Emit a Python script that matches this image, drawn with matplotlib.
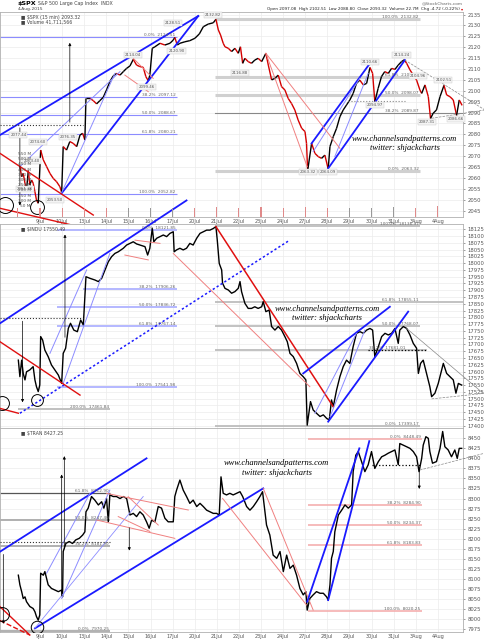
import matplotlib.pyplot as plt
from matplotlib.collections import LineCollection

# x axis = trading day, 0 = 8 Jul 2015 open ... 19 = 4 Aug
date_days = list(range(1, 20))
date_labels = ['9Jul', '10Jul', '13Jul', '14Jul', '15Jul', '16Jul', '17Jul', '20Jul', '21Jul',
               '22Jul', '23Jul', '24Jul', '27Jul', '28Jul', '29Jul', '30Jul', '31Jul', '3Aug', '4Aug']

# ---- $SPX 15 min ----
spx_day = [0.09, 0.17, 0.24, 0.32, 0.39, 0.47, 0.54, 0.62, 0.69, 0.77, 0.84, 0.92,
           1.03, 1.15, 1.30, 1.45, 1.60, 1.75, 1.90, 1.98,
           2.05, 2.20, 2.35, 2.50, 2.66, 2.81, 2.93, 3.03,
           3.08, 3.26, 3.41, 3.56, 3.71, 3.86, 4.01, 4.16, 4.31, 4.46, 4.62, 4.77, 4.92,
           5.07, 5.22, 5.37, 5.52, 5.67, 5.79, 5.90, 5.97,
           6.08, 6.20, 6.43, 6.65, 6.88, 7.03, 7.10, 7.21, 7.33, 7.56, 7.78,
           8.01, 8.21, 8.39, 8.61, 8.84, 8.96, 9.07, 9.17, 9.29, 9.37, 9.52, 9.67, 9.82, 9.97,
           10.07, 10.17, 10.27, 10.42, 10.57, 10.72, 10.87, 11.03, 11.22, 11.33, 11.48, 11.63,
           11.78, 11.93, 12.08, 12.23, 12.38, 12.53, 12.68, 12.84, 12.99, 13.06, 13.11,
           13.29, 13.44, 13.59, 13.74, 13.89, 14.04, 14.12, 14.27, 14.42, 14.57, 14.72,
           14.87, 15.02, 15.17, 15.32, 15.47, 15.63, 15.78, 15.93, 16.05, 16.15, 16.30,
           16.45, 16.60, 16.76, 16.91, 17.06, 17.21, 17.36, 17.48, 17.59, 17.74, 17.89,
           18.04, 18.19, 18.27, 18.42, 18.57, 18.67, 18.79, 18.94, 19.10, 19.28, 19.40,
           19.55, 19.70, 19.85, 19.97, 20.10]
spx_close = [2065.2, 2060.6, 2062.1, 2057.6, 2054.5, 2063.4, 2056.8, 2059.1, 2057.6, 2053.7, 2049.9, 2048.4,
             2072.8, 2068.3, 2065.2, 2062.1, 2059.8, 2058.3, 2056.0, 2053.3,
             2074.4, 2072.8, 2076.7, 2075.9, 2074.4, 2079.7, 2080.5, 2077.4,
             2096.5, 2096.5, 2095.5, 2094.0, 2095.5, 2097.0, 2100.4, 2104.2, 2106.8, 2108.0, 2107.2, 2108.8, 2110.3,
             2111.4, 2114.4, 2111.8, 2111.1, 2110.8, 2106.5, 2104.6, 2107.2,
             2119.5, 2120.2, 2121.8, 2121.0, 2121.8, 2123.3, 2124.5, 2121.0, 2121.8, 2122.5, 2123.0,
             2124.1, 2126.1, 2129.4, 2130.6, 2131.2, 2132.8, 2127.9, 2125.6, 2121.8, 2120.2, 2119.5, 2118.0, 2119.5, 2117.2,
             2120.2, 2112.6, 2114.9, 2113.4, 2112.6, 2114.1, 2114.9, 2113.4, 2117.2, 2111.8, 2105.0, 2105.7,
             2107.2, 2101.9, 2100.4, 2096.5, 2094.2, 2091.2, 2086.6, 2082.8, 2081.3, 2075.9, 2063.3,
             2075.9, 2071.3, 2069.8, 2069.0, 2070.5, 2064.1, 2074.4, 2079.0, 2082.8, 2088.1, 2091.2,
             2093.5, 2095.8, 2098.8, 2103.4, 2104.9, 2102.7, 2103.4, 2110.7, 2108.0, 2095.0, 2101.1,
             2106.5, 2108.8, 2108.0, 2110.3, 2109.8, 2111.8, 2113.4, 2114.2, 2112.6, 2109.6, 2107.2,
             2104.9, 2100.4, 2098.8, 2102.7, 2097.3, 2087.3, 2089.7, 2091.2, 2097.3, 2102.5, 2098.1,
             2097.3, 2095.8, 2088.7, 2095.8, 2093.3]
spx_vol_open = [35, 30, 32, 28, 30, 33, 27, 30, 35, 40, 32, 38, 34, 36, 35, 30, 34, 42, 33, 45]
spx_vol_ticks = [50, 100, 150, 200, 250, 300, 350, 400, 450, 500, 550]

spx_pt_x = [8.84, 7.03, 5.22, 5.82, 0.02, 0.92, 2.28, 0.62, 0.32, 1.67,
            10.05, 13.14, 14.04, 15.93, 16.15, 17.36, 18.11, 19.25, 18.52, 19.82, 7.18]
spx_pt_y = [2134.8, 2131.3, 2116.4, 2101.6, 2079.7, 2076.6, 2079.0, 2067.8, 2054.8, 2050.0,
            2108.3, 2062.6, 2062.9, 2113.1, 2093.5, 2116.4, 2106.9, 2104.9, 2085.8, 2087.1, 2118.4]
spx_pt_txt = ['2132.82', '2128.51', '2114.04', '2099.46', '2077.44', '2074.60', '2076.35', '2063.40',
              '2051.36', '2053.50', '2116.88', '2063.32', '2064.09', '2110.66', '2094.97', '2114.24',
              '2104.96', '2102.51', '2087.31', '2086.66', '2120.90']

spx_fib_l = [2124.51, 2097.12, 2088.67, 2080.21, 2052.82]
spx_fib_l_txt = ['0.0%', '38.2%', '50.0%', '61.8%', '100.0%']
spx_fib_r = [2132.82, 2106.27, 2098.07, 2089.87, 2063.32]
spx_fib_r_txt = ['100.0%', '61.8%', '50.0%', '38.2%', '0.0%']

# ---- $INDU 15 min ----
indu_day = [0.02, 0.09, 0.17, 0.24, 0.32, 0.39, 0.54, 0.69, 0.77, 0.84, 0.92, 0.99,
            1.03, 1.12, 1.22, 1.37, 1.52, 1.67, 1.83, 1.98,
            2.05, 2.16, 2.28, 2.38, 2.53, 2.69, 2.84, 2.96,
            3.08, 3.26, 3.48, 3.64, 3.79, 3.94, 4.09, 4.24, 4.39, 4.54, 4.77, 4.92,
            5.07, 5.22, 5.37, 5.52, 5.75, 5.87, 5.97,
            6.08, 6.15, 6.28, 6.43, 6.58, 6.73, 6.88, 7.03, 7.07, 7.18, 7.33, 7.48, 7.63, 7.78, 7.93,
            8.09, 8.24, 8.39, 8.54, 8.69, 8.84, 8.96, 9.02, 9.11, 9.22, 9.26, 9.37, 9.52, 9.67, 9.82, 9.97,
            10.05, 10.12, 10.27, 10.42, 10.57, 10.72, 10.87, 11.03, 11.10, 11.22, 11.37, 11.48, 11.63,
            11.78, 11.93, 12.08, 12.19, 12.31, 12.46, 12.61, 12.76, 12.91, 13.03, 13.09,
            13.24, 13.36, 13.51, 13.67, 13.82, 13.97, 14.09, 14.19, 14.27, 14.42, 14.57, 14.72, 14.87,
            15.02, 15.17, 15.32, 15.48, 15.63, 15.78, 15.93, 16.05, 16.15, 16.31, 16.46, 16.61,
            16.76, 16.91, 17.06, 17.21, 17.28, 17.44, 17.59, 17.74, 17.89, 18.04, 18.12, 18.22,
            18.34, 18.49, 18.64, 18.72, 18.87, 19.02, 19.25, 19.40, 19.55, 19.70, 19.82, 19.93, 20.08]
indu_close = [17642, 17581, 17642, 17593, 17569, 17599, 17606, 17618, 17569, 17544, 17526, 17550,
              17729, 17716, 17679, 17655, 17624, 17606, 17587, 17556,
              17667, 17686, 17759, 17778, 17753, 17747, 17790, 17772,
              17950, 17944, 17938, 17932, 17944, 17975, 18005, 18024, 18036, 18042, 18055, 18067,
              18073, 18079, 18071, 18067, 18061, 18030, 18055,
              18129, 18079, 18092, 18098, 18104, 18098, 18110, 18116, 18042, 18049, 18055, 18049, 18055, 18073, 18067,
              18092, 18110, 18116, 18122, 18122, 18128, 18135, 18086, 17999, 17975, 17926, 17907, 17901, 17889, 17895, 17907,
              17932, 17895, 17852, 17833, 17833, 17839, 17833, 17839, 17858, 17821, 17827, 17766, 17753,
              17766, 17753, 17729, 17710, 17667, 17655, 17630, 17593, 17581, 17569, 17402,
              17489, 17458, 17446, 17434, 17440, 17427, 17421, 17495, 17470, 17532, 17581, 17618, 17642,
              17630, 17692, 17741, 17747, 17741, 17753, 17759, 17753, 17655, 17692, 17729, 17741,
              17735, 17741, 17759, 17704, 17753, 17766, 17759, 17735, 17704, 17686, 17593, 17630,
              17642, 17593, 17544, 17507, 17520, 17556, 17630, 17593, 17581, 17569, 17520, 17556, 17550]
indu_fib_l = [18121.85, 17906.26, 17836.72, 17767.14, 17541.98]
indu_fib_l_txt = ['0.0%', '38.2%', '50.0%', '61.8%', '100.0%']
indu_fib_r = [18136.97, 17855.11, 17768.07, 17681.01, 17399.17]
indu_fib_r_txt = ['100.0%', '61.8%', '50.0%', '38.2%', '0.0%']

# ---- $TRAN 15 min ----
tran_day = [0.02, 0.09, 0.17, 0.24, 0.32, 0.39, 0.54, 0.69, 0.77, 0.84, 0.92, 0.99,
            1.03, 1.15, 1.22, 1.37, 1.52, 1.67, 1.83, 1.98, 2.02,
            2.05, 2.17, 2.32, 2.47, 2.62, 2.78, 2.93, 3.03,
            3.08, 3.18, 3.33, 3.48, 3.64, 3.79, 3.89, 4.01, 4.09, 4.16, 4.31, 4.46, 4.62, 4.77, 4.92,
            5.07, 5.22, 5.37, 5.52, 5.67, 5.82, 5.94, 6.05, 6.20, 6.35, 6.50, 6.65, 6.80, 6.95, 7.03,
            7.10, 7.18, 7.33, 7.48, 7.63, 7.78, 7.93, 8.09, 8.24, 8.39, 8.54, 8.69, 8.84, 8.99, 9.11,
            9.19, 9.29, 9.44, 9.59, 9.74, 9.90, 10.05, 10.17, 10.35, 10.50, 10.65, 10.80, 10.95, 11.07,
            11.18, 11.25, 11.40, 11.55, 11.71, 11.86, 12.01, 12.16, 12.31, 12.46, 12.61, 12.76, 12.91,
            13.03, 13.09, 13.21, 13.36, 13.51, 13.67, 13.82, 13.97, 14.04, 14.12, 14.19, 14.27, 14.34,
            14.50, 14.65, 14.80, 14.95, 15.10, 15.17, 15.29, 15.40, 15.55, 15.70, 15.85, 16.00, 16.15,
            16.31, 16.46, 16.61, 16.76, 16.91, 17.06, 17.21, 17.28, 17.44, 17.59, 17.74, 17.89, 18.04,
            18.15, 18.27, 18.34, 18.46, 18.57, 18.64, 18.76, 18.94, 19.10, 19.22, 19.32, 19.47, 19.62,
            19.77, 19.88, 19.97, 20.08]
tran_close = [8109, 8085, 8068, 8051, 8055, 8043, 8031, 8026, 8018, 8006, 7997, 8010,
              8114, 8109, 8118, 8085, 8076, 8072, 8068, 8072, 8055,
              8168, 8188, 8193, 8188, 8197, 8201, 8209, 8217,
              8267, 8276, 8305, 8296, 8284, 8292, 8276, 8300, 8242, 8309, 8305, 8305, 8300, 8305, 8300,
              8259, 8263, 8255, 8267, 8259, 8242, 8226, 8246, 8242, 8280, 8276, 8251, 8242, 8242, 8242,
              8305, 8321, 8346, 8321, 8305, 8288, 8296, 8280, 8288, 8280, 8271, 8267, 8263, 8263, 8259,
              8354, 8313, 8309, 8313, 8309, 8313, 8317, 8305, 8280, 8271, 8280, 8292, 8305, 8317,
              8267, 8234, 8209, 8159, 8151, 8168, 8118, 8159, 8126, 8134, 8109, 8076, 8060,
              8068, 8022, 8051, 8060, 8068, 8064, 8064, 8055, 8047, 8085, 8151, 8168, 8217,
              8259, 8271, 8284, 8276, 8284, 8367, 8408, 8417, 8392, 8367, 8384, 8417, 8375,
              8392, 8404, 8408, 8413, 8417, 8421, 8384, 8437, 8433, 8429, 8425, 8417, 8404,
              8367, 8400, 8433, 8454, 8450, 8417, 8388, 8392, 8425, 8467, 8429, 8421, 8404,
              8421, 8400, 8425, 8425]
tran_fib_l = [8312.90, 8247.40, 8181.90, 7970.25]
tran_fib_l_txt = ['61.8%', '50.0%', '38.2%', '0.0%']
tran_fib_r = [8448.49, 8284.90, 8234.37, 8183.83, 8020.25]
tran_fib_r_txt = ['0.0%', '38.2%', '50.0%', '61.8%', '100.0%']

BLUE = '#1a1aff'
LBLUE = '#8c8cff'
RED = '#e01010'
LRED = '#f08080'
XMIN, XMAX = -0.81, 20.14

fig = plt.figure(figsize=(4.84, 6.4), dpi=100)
W, H = 484.0, 640.0
ax1 = fig.add_axes([0, 1 - 217 / H, 463 / W, 205 / H])
ax2 = fig.add_axes([0, 1 - 428 / H, 463 / W, 204 / H])
ax3 = fig.add_axes([0, 1 - 632 / H, 463 / W, 204 / H])

# volume twin made first: twinx() moves the price ticks to the left otherwise
axv = ax1.twinx()


def frame(ax, lo, hi, ticks):
    ax.set_xlim(XMIN, XMAX)
    ax.set_ylim(lo, hi)
    ax.yaxis.tick_right()
    ax.set_yticks(ticks)
    ax.set_yticklabels([str(t) for t in ticks])
    ax.tick_params(axis='y', labelsize=3.8, length=1.5, width=0.4, pad=1.5, colors='#555555',
                   left=False, labelleft=False, right=True, labelright=True)
    ax.set_xticks(date_days)
    ax.tick_params(axis='x', length=0, labelsize=3.6, pad=1.5, colors='#555555')
    ax.grid(True, color='#ececec', lw=0.5)
    ax.set_axisbelow(True)
    for s in ax.spines.values():
        s.set_color('#b0b0b0')
        s.set_linewidth(0.6)


def line(ax, x1, y1, x2, y2, color=BLUE, lw=1.2, ls='-', clip=True):
    ax.plot([x1, x2], [y1, y2], color=color, lw=lw, ls=ls, clip_on=clip, zorder=4)


def fib(ax, x1, x2, y, pct, color, lw, tx=None):
    ax.plot([x1, x2], [y, y], color=color, lw=lw, zorder=2, solid_capstyle='butt')
    if tx is None:
        tx = x2
    ax.text(tx - 0.05, y, '%s  %.2f' % (pct, y), fontsize=3.1, color='#666666',
            ha='right', va='bottom', zorder=6)


def arrow(ax, x, y1, y2):
    ax.annotate('', xy=(x, y2), xytext=(x, y1),
                arrowprops=dict(arrowstyle='-|>', color='black', lw=0.5, mutation_scale=4), zorder=5)


def circle(ax, x, y, ms):
    ax.plot([x], [y], 'o', mfc='none', mec='black', ms=ms, mew=0.7, zorder=5)


def watermark(ax, x, y1, y2):
    ax.text(x, y1, 'www.channelsandpatterns.com', fontsize=6.1, style='italic',
            family='Liberation Serif', ha='center', va='center', zorder=7)
    ax.text(x, y2, 'twitter: shjackcharts', fontsize=6.1, style='italic',
            family='Liberation Serif', ha='center', va='center', zorder=7)


# ================= panel 1: SPX =================
frame(ax1, 2042.1, 2136.15, list(range(2045, 2136, 5)))
ax1.set_xticklabels(date_labels)

pts = list(zip(spx_day, spx_close))
segs = [[pts[i], pts[i + 1]] for i in range(len(pts) - 1)]
cols = ['#d40000' if spx_close[i + 1] < spx_close[i] else 'black' for i in range(len(pts) - 1)]
ax1.add_collection(LineCollection(segs, colors=cols, linewidths=1.0, zorder=3))

axv.set_ylim(-56, 1915)
axv.set_yticks([])
axv.bar(list(range(20)), [v + 56 for v in spx_vol_open], bottom=-56, width=0.05, color='#e08a8a', zorder=1)
axv.bar(list(range(20)), [v + 56 for v in spx_vol_open], bottom=-56, width=0.015, color='#999999', zorder=1)
for v in spx_vol_ticks:
    axv.text(0.58, v, '%d M' % v, fontsize=3.1, color='#555555', ha='right', va='center')
for s in axv.spines.values():
    s.set_visible(False)

for y, p in zip(spx_fib_l, spx_fib_l_txt):
    fib(ax1, XMIN, 7.18, y, p, LBLUE, 0.8)
for y, p in zip(spx_fib_r, spx_fib_r_txt):
    if p == '38.2%':
        ax1.plot([8.91, XMAX], [y, y], color='#888888', lw=0.8, zorder=2)
        ax1.text(18.15, y, '%s  %.2f' % (p, y), fontsize=3.1, color='#666666', ha='right', va='bottom')
    else:
        fib(ax1, 8.91, 18.19, y, p, '#d0d0d0', 2.2)

line(ax1, XMIN, 2079.7, 8.16, 2134.3, lw=1.3)
line(ax1, 1.98, 2053.0, 8.16, 2134.3, lw=1.3)
line(ax1, 0.09, 2065.2, 4.62, 2108.8, color=LBLUE, lw=0.7)
line(ax1, 1.98, 2053.3, 4.39, 2108.0, color=LBLUE, lw=0.7)
line(ax1, 13.29, 2075.9, 15.93, 2112.6, lw=1.3)
line(ax1, 14.04, 2064.4, 17.51, 2114.1, lw=1.3)
line(ax1, 13.36, 2072.1, 15.47, 2105.7, color=LBLUE, lw=0.7)
line(ax1, 14.34, 2069.8, 15.85, 2108.0, color=LBLUE, lw=0.7)
line(ax1, XMIN, 2071.3, 3.41, 2043.0, color=RED, lw=1.0)
line(ax1, XMIN, 2046.1, 2.45, 2038.4, color=RED, lw=1.0, clip=False)
line(ax1, 4.84, 2107.2, 5.90, 2099.6, color=LRED, lw=0.7)
line(ax1, 5.22, 2114.9, 6.12, 2105.7, color=LRED, lw=0.7)
line(ax1, 11.22, 2117.2, 13.09, 2065.2, color=LRED, lw=0.7)
line(ax1, 11.22, 2117.2, 14.57, 2073.6, color=LRED, lw=0.7)
line(ax1, XMIN, 2084.3, 2.96, 2084.3, color='#333333', lw=0.8, ls=':')
line(ax1, 14.95, 2095.3, 17.51, 2095.3, color='#888888', lw=0.8, ls=':')
line(ax1, 17.51, 2114.1, 21.13, 2091.2, color='#888888', lw=0.5, ls='--', clip=False)
line(ax1, 18.72, 2087.4, 21.13, 2091.2, color='#888888', lw=0.5, ls='--', clip=False)
arrow(ax1, 2.35, 2084.3, 2123.3)
arrow(ax1, 0.09, 2084.3, 2046.1)
circle(ax1, 0.85, 2046.6, 10)
circle(ax1, -0.58, 2047.8, 11.5)

for x, y, t in zip(spx_pt_x, spx_pt_y, spx_pt_txt):
    ax1.text(x, y, t, fontsize=2.9, color='#555555', ha='center', va='center', zorder=6,
             bbox=dict(boxstyle='square,pad=0.25', fc='#f4f4f4', ec='#c8c8c8', lw=0.3))

watermark(ax1, 17.5, 2077.9, 2073.8)
ax1.text(0.045, 0.985, '\u25a0 $SPX (15 min) 2093.32', transform=ax1.transAxes, fontsize=3.3,
         color='#444444', va='top')
ax1.text(0.045, 0.965, '\u25a0 Volume 41,711,566', transform=ax1.transAxes, fontsize=3.3,
         color='#444444', va='top')

fig.text(18 / W, 1 - 4 / H, '$SPX', fontsize=4.6, fontweight='bold', va='center')
fig.text(38 / W, 1 - 4 / H, 'S&P 500 Large Cap Index  INDX', fontsize=3.4, color='#444444', va='center')
fig.text(18 / W, 1 - 9 / H, '4-Aug-2015', fontsize=3.2, color='#444444', va='center')
fig.text(463 / W, 1 - 3 / H, '@StockCharts.com', fontsize=3.2, color='#666666', va='center', ha='right')
fig.text(460 / W, 1 - 9 / H,
         'Open 2097.08  High 2102.51  Low 2088.80  Close 2093.32  Volume 22.7M  Chg -4.72 (-0.22%)',
         fontsize=3.0, color='#222222', va='center', ha='right')
fig.text(463 / W, 1 - 9 / H, '\u25be', fontsize=3.0, color='#d40000', va='center', ha='right')

# ================= panel 2: INDU =================
frame(ax2, 17391.5, 18144.6, list(range(17400, 18126, 25)))
ax2.set_xticklabels([])
ax2.plot(indu_day, indu_close, color='black', lw=1.0, zorder=3)

for y, p in zip(indu_fib_l, indu_fib_l_txt):
    x1 = 2.96 if p == '38.2%' else 1.75
    fib(ax2, x1, 7.18, y, p, '#b4b8ff', 1.4)
fib(ax2, 0.02, 4.16, 17461.84, '200.0%', '#c0c0c0', 1.4)
for y, p in zip(indu_fib_r, indu_fib_r_txt):
    x2 = 20.22 if p == '61.8%' else (18.49 if p == '38.2%' else 18.19)
    fib(ax2, 8.91, x2, y, p, '#b8b8b8', 1.2, tx=18.19 if p != '38.2%' else 17.6)

line(ax2, XMIN, 17778, 7.63, 18231.6, lw=1.3, clip=False)
line(ax2, 0.09, 17446, 12.31, 18085.5, lw=1.1, ls=(0, (1.5, 1.5)))
line(ax2, 1.45, 17667, 3.11, 17975, color=LBLUE, lw=0.7)
line(ax2, 2.05, 17556, 4.16, 18036, color=LBLUE, lw=0.7)
line(ax2, XMIN, 17710, 2.81, 17513, color=RED, lw=1.0)
line(ax2, XMIN, 17464, 0.02, 17446, color=RED, lw=1.0)
line(ax2, 4.84, 18030, 5.90, 18012, color=LRED, lw=0.7)
line(ax2, 5.30, 18085, 6.43, 18073, color=LRED, lw=0.7)
line(ax2, 7.03, 18036, 13.21, 17544, color=LRED, lw=0.7)
line(ax2, 8.96, 18135, 14.27, 17470, color=RED, lw=1.1)
line(ax2, 12.91, 17593, 16.83, 17839, lw=1.3)
line(ax2, 14.04, 17415, 17.66, 17821, lw=1.3)
line(ax2, 13.44, 17446, 15.32, 17741, color=LBLUE, lw=0.7)
line(ax2, 14.12, 17433, 15.70, 17753, color=LBLUE, lw=0.7)
line(ax2, 17.59, 17759, 21.06, 17519, color='#888888', lw=0.5, clip=False)
line(ax2, 18.72, 17499, 21.06, 17519, color='#888888', lw=0.5, ls='--', clip=False)
line(ax2, 15.85, 17679, 18.49, 17679, color='black', lw=0.9, ls=':')
line(ax2, XMIN, 17796, 2.96, 17796, color='#333333', lw=0.8, ls=':')
arrow(ax2, 0.21, 17796, 17476)
arrow(ax2, 2.13, 17716, 18116)
circle(ax2, 0.85, 17495, 8.5)
circle(ax2, -0.74, 17482, 10)
watermark(ax2, 14.0, 17832, 17796)
ax2.text(0.045, 0.985, '\u25a0 $INDU 17550.49', transform=ax2.transAxes, fontsize=3.3,
         color='#444444', va='top')

# ================= panel 3: TRAN =================
frame(ax3, 7967.5, 8475.7, list(range(7975, 8451, 25)))
ax3.set_xticklabels(date_labels)
ax3.plot(tran_day, tran_close, color='black', lw=1.0, zorder=3)

for y, p in zip(tran_fib_l, tran_fib_l_txt):
    c = '#555555' if p == '61.8%' else '#b0b0b0'
    fib(ax3, XMIN, 4.16, y, p, c, 0.9 if p == '61.8%' else 1.4)
for y, p in zip(tran_fib_r, tran_fib_r_txt):
    fib(ax3, 13.14, 18.27, y, p, '#f4a8a8', 1.1)

line(ax3, XMIN, 8167.6, 5.82, 8400.1, lw=1.3)
line(ax3, 0.77, 7976.6, 11.10, 8325.3, lw=1.3)
line(ax3, 1.30, 8114, 3.26, 8313, color=LBLUE, lw=0.7)
line(ax3, 1.98, 8051, 4.16, 8321, color=LBLUE, lw=0.7)
line(ax3, 0.77, 7977, 5.67, 8305, color=LBLUE, lw=0.6)
line(ax3, XMIN, 8030.6, 0.54, 7960, color=RED, lw=1.0, clip=False)
line(ax3, XMIN, 7996, 0.54, 7960, color=RED, lw=1.0, ls='--', clip=False)
line(ax3, 4.01, 8312.9, 7.71, 8271.4, color=LRED, lw=0.7)
line(ax3, 3.56, 8246.5, 7.10, 8200.8, color=LRED, lw=0.7)
line(ax3, 4.99, 8304.6, 6.35, 8234.0, color=LRED, lw=0.7)
line(ax3, 4.54, 8255.0, 5.97, 8218.0, color=LRED, lw=0.7)
line(ax3, 9.26, 8300.4, 13.06, 8034.7, color=LRED, lw=0.7)
line(ax3, 11.10, 8325.3, 13.36, 8022.3, color=LRED, lw=0.7)
line(ax3, 13.09, 8043, 15.45, 8425, lw=1.3)
line(ax3, 14.04, 8047, 15.90, 8443, lw=1.3)
line(ax3, 18.19, 8371, 21.09, 8412.5, color='#888888', lw=0.5, ls='--', clip=False)
line(ax3, 16.00, 8383, 18.19, 8383, color='black', lw=0.9, ls=':')
line(ax3, XMIN, 8192.5, 4.16, 8192.5, color='#333333', lw=0.8, ls=':')
arrow(ax3, -0.66, 8167.6, 7981)
arrow(ax3, 2.10, 8167.6, 8412.5)
arrow(ax3, 1.98, 8051, 8366.9)
arrow(ax3, 5.04, 8234, 8163.4)
arrow(ax3, 18.16, 8383, 8317)
circle(ax3, 0.85, 7981, 9)
circle(ax3, -0.74, 8011.5, 10)
watermark(ax3, 11.7, 8387.6, 8362.7)
ax3.text(0.045, 0.985, '\u25a0 $TRAN 8427.25', transform=ax3.transAxes, fontsize=3.3,
         color='#444444', va='top')

fig.savefig('out.png', dpi=100)
